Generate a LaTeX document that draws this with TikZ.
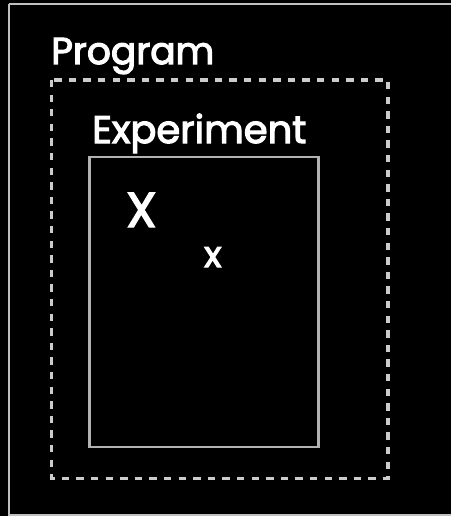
\documentclass[tikz,border=0pt]{standalone}
\usepackage{fontspec}
\setmainfont{Poppins}[FakeBold=3]
\begin{document}
\begin{tikzpicture}[x=1pt,y=-1pt,
  outerbox/.style={draw=white!75!black,line width=2pt},
  dashbox/.style={draw=white!80!black,line width=3.5pt,dash pattern=on 7.3pt off 7.3pt},
  innerbox/.style={draw=white!70!black,line width=2.2pt},
  lbl/.style={text=white,inner sep=0pt,anchor=base west}]
\useasboundingbox (0,0) rectangle (450,516);
\fill[black] (-10,-10) rectangle (460,526);
\draw[outerbox] (8.5,4.5) -- (462,4.5) (8.5,4.5) -- (8.5,515) -- (462,515);
\draw[dashbox] (51.5,80) rectangle (388,478.5);
\draw[innerbox] (89.5,157) rectangle (318.5,447);
\node[lbl,font=\fontsize{37.5}{40}\selectfont] (prog) at (51,64) {Program};
\node[lbl,font=\fontsize{38.5}{40}\selectfont] (exp) at (92,143) {Experiment};
\node[lbl,font=\fontsize{49}{50}\selectfont] (bigx) at (126,227) {X};
\node[lbl,font=\fontsize{36}{38}\selectfont] (smallx) at (204,267) {x};
\end{tikzpicture}
\end{document}
